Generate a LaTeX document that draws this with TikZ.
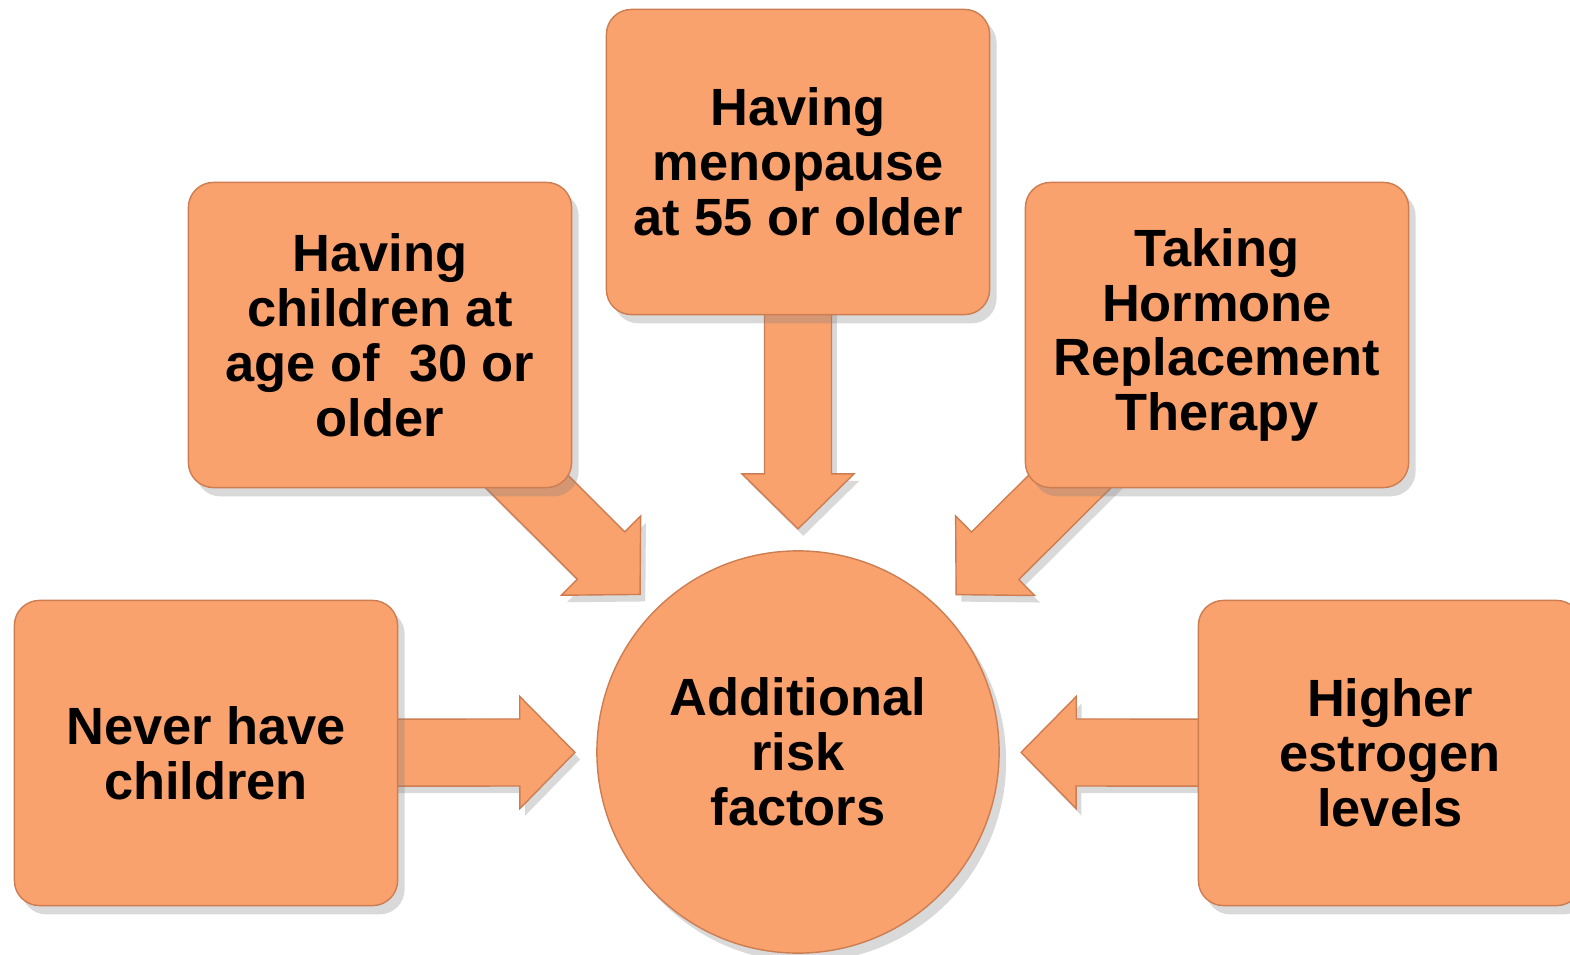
\documentclass[tikz,border=0pt]{standalone}
\usepackage{fontspec}
\setmainfont{Liberation Sans}
\usetikzlibrary{calc,shadows,backgrounds}
\definecolor{salmon}{RGB}{250,162,110}
\definecolor{salmonedge}{RGB}{205,125,82}
\tikzset{
  factor/.style={
    rectangle,
    rounded corners=0.25cm,
    fill=salmon,
    draw=salmonedge, thin,
    minimum width=3.83cm,
    minimum height=3.05cm,
    inner sep=0pt,
    align=center,
    font=\fontsize{14.9}{15.6}\selectfont\bfseries,
    drop shadow={shadow xshift=2pt, shadow yshift=-2.5pt, opacity=0.3}},
  hub/.style={
    circle,
    fill=salmon,
    draw=salmonedge, thin,
    minimum size=4.02cm,
    inner sep=0pt,
    align=center,
    font=\fontsize{14.9}{15.6}\selectfont\bfseries,
    drop shadow={shadow xshift=2pt, shadow yshift=-2.5pt, opacity=0.3}},
  block arrow/.style={fill=salmon, draw=salmonedge, thin, line join=miter,
    drop shadow={shadow xshift=1.5pt, shadow yshift=-2pt, opacity=0.3}},
}
% block arrow from the centre of #1 to just short of #2
\newcommand{\blockarrow}[2]{%
  \coordinate (tip) at ($(#2.center)!2.23cm!(#1.center)$);
  \coordinate (base) at ($(tip)!0.55cm!(#1.center)$);
  \draw[block arrow] ($(#1.center)!0.335cm!90:(tip)$)
    -- ($(base)!0.335cm!90:(tip)$) -- ($(base)!0.56cm!90:(tip)$)
    -- (tip)
    -- ($(base)!0.56cm!-90:(tip)$) -- ($(base)!0.335cm!-90:(tip)$)
    -- ($(#1.center)!0.335cm!-90:(tip)$) -- cycle;
}
\begin{document}
\begin{tikzpicture}[x=0.01cm, y=-0.01cm]
    \useasboundingbox (0,0) rectangle (1570,955);

    %centre
    \node[hub] (risk) at (798,752) {Additional\\risk\\factors};

    %factors
    \node[factor] (menopause) at (798,162) {Having\\menopause\\at 55 or older};
    \node[factor] (children) at (380,335) {Having\\children at\\age of\ \ 30 or\\older};
    \node[factor] (hormone) at (1217,335) {Taking\\Hormone\\Replacement\\Therapy};
    \node[factor] (never) at (206,753) {Never have\\children};
    \node[factor] (estrogen) at (1390,753) {Higher\\estrogen\\levels};

    %arrows
    \begin{pgfonlayer}{background}
      \blockarrow{menopause}{risk}
      \blockarrow{children}{risk}
      \blockarrow{hormone}{risk}
      \blockarrow{never}{risk}
      \blockarrow{estrogen}{risk}
    \end{pgfonlayer}

\end{tikzpicture}
\end{document}
